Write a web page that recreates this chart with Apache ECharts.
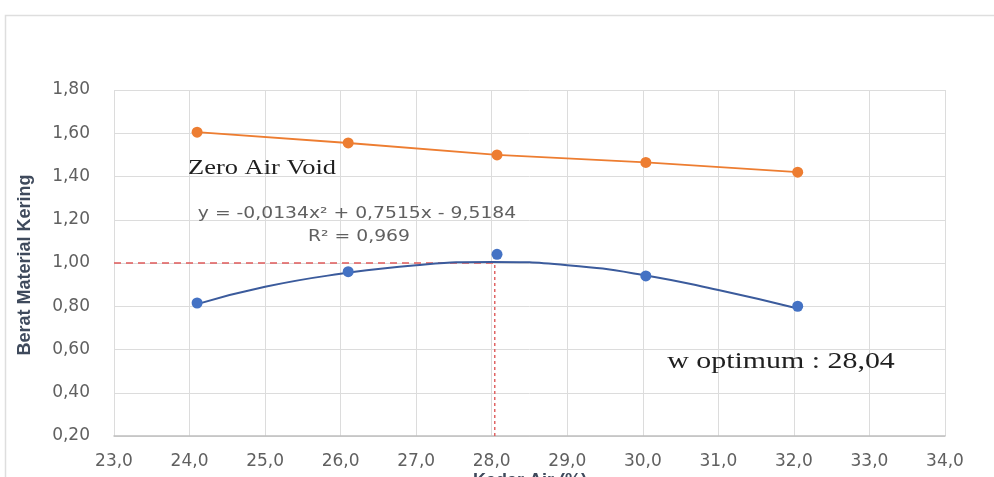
<!DOCTYPE html>
<html>
<head>
<meta charset="utf-8">
<script src="https://cdn.jsdelivr.net/npm/echarts@6/dist/echarts.min.js"></script>
<style>html,body{margin:0;padding:0;background:#fff}#c{width:994px;height:477px}</style>
</head>
<body>
<div id="c"></div>
<script>
// Data
const kadarAir = [24.1, 26.1, 28.07, 30.04, 32.05];
const zeroAirVoid = [1.605, 1.555, 1.50, 1.465, 1.42];
const beratKering = [0.815, 0.96, 1.04, 0.94, 0.80];
const trendX = [24.1, 25, 26, 27, 28, 29, 30, 31, 32.05];
const trendY = [0.81, 0.89, 0.95, 0.99, 1.005, 0.99, 0.945, 0.875, 0.79];
const wOptimum = 28.04;
const maxBerat = 1.00;
const xMin = 23, xMax = 34, xStep = 1;
const yMin = 0.2, yMax = 1.8, yStep = 0.2;
const yAxisTitle = 'Berat Material Kering';
const xAxisTitle = 'Kadar Air (%)';
const zavLabel = 'Zero Air Void';
const eqLabel = 'y = -0,0134x² + 0,7515x - 9,5184';
const r2Label = 'R² = 0,969';
const optLabel = 'w optimum : 28,04';

const pair = (xs, ys) => xs.map((x, i) => [x, ys[i]]);
const comma = (v, d) => v.toFixed(d).replace('.', ',');

const chart = echarts.init(document.getElementById('c'), null, {renderer: 'canvas'});
const tickFont = {fontFamily: 'DejaVu Sans', fontSize: 17, color: '#606060'};

chart.setOption({
  animation: false,
  grid: {left: 114, right: 49, top: 90, bottom: 41},
  xAxis: {
    type: 'value', min: xMin, max: xMax, interval: xStep,
    axisLine: {show: true, lineStyle: {color: '#bfbfbf', width: 1.5}},
    axisTick: {show: false},
    splitLine: {show: true, lineStyle: {color: '#dcdcdc', width: 1}},
    axisLabel: Object.assign({margin: 17, formatter: v => comma(v, 1)}, tickFont)
  },
  yAxis: {
    type: 'value', min: yMin, max: yMax, interval: yStep,
    axisLine: {show: false},
    axisTick: {show: false},
    splitLine: {show: true, lineStyle: {color: '#dcdcdc', width: 1}},
    axisLabel: Object.assign({margin: 24, formatter: v => comma(v, 2)}, tickFont)
  },
  series: [
    {
      type: 'line', data: [[xMin, maxBerat], [wOptimum, maxBerat]],
      symbol: 'none', lineStyle: {color: '#e05a5a', width: 1.5, type: [7, 5]}, z: 1
    },
    {
      type: 'line', data: [[wOptimum, yMin], [wOptimum, maxBerat]],
      symbol: 'none', lineStyle: {color: '#e06464', width: 1.5, type: [3, 3]}, z: 1
    },
    {
      type: 'line', data: pair(trendX, trendY), smooth: true,
      symbol: 'none', lineStyle: {color: '#3b5b9c', width: 2}, z: 2
    },
    {
      type: 'line', data: pair(kadarAir, beratKering),
      symbol: 'circle', symbolSize: 11,
      itemStyle: {color: '#4472c4'}, lineStyle: {width: 0, opacity: 0}, z: 3
    },
    {
      type: 'line', data: pair(kadarAir, zeroAirVoid),
      symbol: 'circle', symbolSize: 11,
      itemStyle: {color: '#ed7d31'}, lineStyle: {color: '#ed7d31', width: 1.8}, z: 3
    }
  ],
  graphic: [
    {type: 'rect', left: 3, top: 13, silent: true, z: -10,
      shape: {width: 1100, height: 600}, style: {fill: 'none', stroke: '#dedede', lineWidth: 1.5}},
    {type: 'text', x: 262, y: 168, scaleX: 1.26, z: 10,
      style: {text: zavLabel, font: '21px "Liberation Serif"', fill: '#1f1f1f', align: 'center', verticalAlign: 'middle'}},
    {type: 'text', x: 781, y: 362, scaleX: 1.3, z: 10,
      style: {text: optLabel, font: '23px "Liberation Serif"', fill: '#1f1f1f', align: 'center', verticalAlign: 'middle'}},
    {type: 'text', x: 357, y: 214, scaleX: 1.25, z: 10,
      style: {text: eqLabel, font: '15px "DejaVu Sans"', fill: '#606060', align: 'center', verticalAlign: 'middle'}},
    {type: 'text', x: 359, y: 237, scaleX: 1.25, z: 10,
      style: {text: r2Label, font: '15px "DejaVu Sans"', fill: '#606060', align: 'center', verticalAlign: 'middle'}},
    {type: 'text', x: 25, y: 265, rotation: Math.PI / 2, z: 10,
      style: {text: yAxisTitle, font: 'bold 18px "Liberation Sans"', fill: '#3f4a5c', align: 'center', verticalAlign: 'middle'}},
    {type: 'text', x: 530, y: 481, z: 10,
      style: {text: xAxisTitle, font: 'bold 18px "Liberation Sans"', fill: '#3f4a5c', align: 'center', verticalAlign: 'middle'}}
  ]
});
</script>
</body>
</html>
